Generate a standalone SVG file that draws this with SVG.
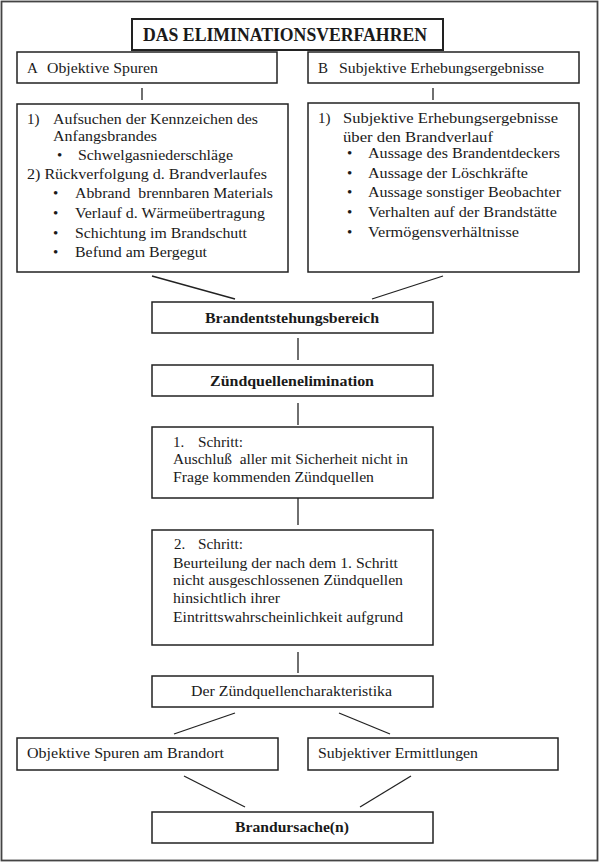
<svg xmlns="http://www.w3.org/2000/svg" width="600" height="863" viewBox="0 0 600 863">
<style>
.box{fill:#fff;stroke:#222;stroke-width:1.5}
.tbox{fill:#fff;stroke:#222;stroke-width:2}
.t,.b,.h{font-family:'Liberation Serif','DejaVu Serif',serif;fill:#1a1a1a}
.t{font-size:15px}
.b{font-size:15px;font-weight:bold}
.h{font-size:18px;font-weight:bold}
.c{stroke:#222;stroke-width:1.3;fill:none}
</style>
<rect x="1.5" y="1.5" width="596" height="859" fill="#fff" stroke="#444" stroke-width="1.8"/>
<g id="connectors">
<line class="c" x1="142" y1="88" x2="142" y2="100"/>
<line class="c" x1="433" y1="88" x2="433" y2="100"/>
<line class="c" x1="152" y1="276" x2="235" y2="299"/>
<line class="c" x1="443" y1="276" x2="372" y2="299"/>
<line class="c" x1="298" y1="338" x2="298" y2="360"/>
<line class="c" x1="298" y1="403" x2="298" y2="425"/>
<line class="c" x1="298" y1="496" x2="298" y2="525"/>
<line class="c" x1="298" y1="652" x2="298" y2="673"/>
<line class="c" x1="235" y1="713" x2="174" y2="734"/>
<line class="c" x1="339" y1="713" x2="390" y2="734"/>
<line class="c" x1="184" y1="776" x2="245" y2="807"/>
<line class="c" x1="411" y1="776" x2="360" y2="807"/>
</g>
<g id="title">
<rect class="tbox" x="132" y="19" width="311" height="31"/>
<text class="h" x="143" y="41" textLength="284" lengthAdjust="spacingAndGlyphs">DAS ELIMINATIONSVERFAHREN</text>
</g>
<g id="a-head">
<rect class="box" x="17" y="52" width="260" height="31"/>
<text class="t" x="27" y="73">A</text>
<text class="t" x="47" y="73" textLength="111" lengthAdjust="spacingAndGlyphs">Objektive Spuren</text>
</g>
<g id="b-head">
<rect class="box" x="308" y="52" width="271" height="31"/>
<text class="t" x="318" y="73">B</text>
<text class="t" x="339" y="73" textLength="205" lengthAdjust="spacingAndGlyphs">Subjektive Erhebungsergebnisse</text>
</g>
<g id="a-detail">
<rect class="box" x="17" y="104" width="271" height="168"/>
<text class="t" x="27" y="124">1)</text>
<text class="t" x="53" y="124" textLength="205" lengthAdjust="spacingAndGlyphs">Aufsuchen der Kennzeichen des</text>
<text class="t" x="53" y="141" textLength="104" lengthAdjust="spacingAndGlyphs">Anfangsbrandes</text>
<text class="t" x="57" y="160">•</text>
<text class="t" x="78" y="160" textLength="155" lengthAdjust="spacingAndGlyphs">Schwelgasniederschläge</text>
<text class="t" x="27" y="179" textLength="240" lengthAdjust="spacingAndGlyphs">2) Rückverfolgung d. Brandverlaufes</text>
<text class="t" x="53" y="198">•</text>
<text class="t" x="75" y="198" textLength="198" lengthAdjust="spacingAndGlyphs" xml:space="preserve">Abbrand  brennbaren Materials</text>
<text class="t" x="53" y="218">•</text>
<text class="t" x="75" y="218" textLength="190" lengthAdjust="spacingAndGlyphs">Verlauf d. Wärmeübertragung</text>
<text class="t" x="53" y="238">•</text>
<text class="t" x="75" y="238" textLength="172" lengthAdjust="spacingAndGlyphs">Schichtung im Brandschutt</text>
<text class="t" x="53" y="257">•</text>
<text class="t" x="75" y="257" textLength="132" lengthAdjust="spacingAndGlyphs">Befund am Bergegut</text>
</g>
<g id="b-detail">
<rect class="box" x="308" y="103" width="271" height="169"/>
<text class="t" x="318" y="123">1)</text>
<text class="t" x="343" y="123" textLength="215" lengthAdjust="spacingAndGlyphs">Subjektive Erhebungsergebnisse</text>
<text class="t" x="343" y="142" textLength="150" lengthAdjust="spacingAndGlyphs">über den Brandverlauf</text>
<text class="t" x="347" y="158">•</text>
<text class="t" x="368" y="158" textLength="192" lengthAdjust="spacingAndGlyphs">Aussage des Brandentdeckers</text>
<text class="t" x="347" y="178">•</text>
<text class="t" x="368" y="178" textLength="160" lengthAdjust="spacingAndGlyphs">Aussage der Löschkräfte</text>
<text class="t" x="347" y="197">•</text>
<text class="t" x="368" y="197" textLength="193" lengthAdjust="spacingAndGlyphs">Aussage sonstiger Beobachter</text>
<text class="t" x="347" y="217">•</text>
<text class="t" x="368" y="217" textLength="189" lengthAdjust="spacingAndGlyphs">Verhalten auf der Brandstätte</text>
<text class="t" x="347" y="237">•</text>
<text class="t" x="368" y="237" textLength="151" lengthAdjust="spacingAndGlyphs">Vermögensverhältnisse</text>
</g>
<g id="bereich">
<rect class="box" x="152" y="302" width="281" height="31"/>
<text class="b" x="205" y="323" textLength="174" lengthAdjust="spacingAndGlyphs">Brandentstehungsbereich</text>
</g>
<g id="elimination">
<rect class="box" x="152" y="365" width="281" height="31"/>
<text class="b" x="210" y="386" textLength="164" lengthAdjust="spacingAndGlyphs">Zündquellenelimination</text>
</g>
<g id="schritt1">
<rect class="box" x="152" y="427" width="281" height="71"/>
<text class="t" x="173" y="447">1.</text>
<text class="t" x="198" y="447" textLength="45" lengthAdjust="spacingAndGlyphs">Schritt:</text>
<text class="t" x="173" y="464" textLength="235" lengthAdjust="spacingAndGlyphs" xml:space="preserve">Auschluß  aller mit Sicherheit nicht in</text>
<text class="t" x="173" y="482" textLength="201" lengthAdjust="spacingAndGlyphs">Frage kommenden Zündquellen</text>
</g>
<g id="schritt2">
<rect class="box" x="152" y="530" width="281" height="115"/>
<text class="t" x="174" y="549">2.</text>
<text class="t" x="198" y="549" textLength="45" lengthAdjust="spacingAndGlyphs">Schritt:</text>
<text class="t" x="173" y="568" textLength="225" lengthAdjust="spacingAndGlyphs">Beurteilung der nach dem 1. Schritt</text>
<text class="t" x="173" y="585" textLength="230" lengthAdjust="spacingAndGlyphs">nicht ausgeschlossenen Zündquellen</text>
<text class="t" x="173" y="603" textLength="107" lengthAdjust="spacingAndGlyphs">hinsichtlich ihrer</text>
<text class="t" x="173" y="622" textLength="230" lengthAdjust="spacingAndGlyphs">Eintrittswahrscheinlichkeit aufgrund</text>
</g>
<g id="charakteristika">
<rect class="box" x="152" y="676" width="281" height="31"/>
<text class="t" x="191" y="696" textLength="201" lengthAdjust="spacingAndGlyphs">Der Zündquellencharakteristika</text>
</g>
<g id="objektiv">
<rect class="box" x="17" y="738" width="261" height="32"/>
<text class="t" x="27" y="758" textLength="197" lengthAdjust="spacingAndGlyphs">Objektive Spuren am Brandort</text>
</g>
<g id="subjektiv">
<rect class="box" x="308" y="738" width="250" height="32"/>
<text class="t" x="318" y="758" textLength="160" lengthAdjust="spacingAndGlyphs">Subjektiver Ermittlungen</text>
</g>
<g id="ursache">
<rect class="box" x="152" y="812" width="281" height="31"/>
<text class="b" x="235" y="832" textLength="114" lengthAdjust="spacingAndGlyphs">Brandursache(n)</text>
</g>
</svg>
